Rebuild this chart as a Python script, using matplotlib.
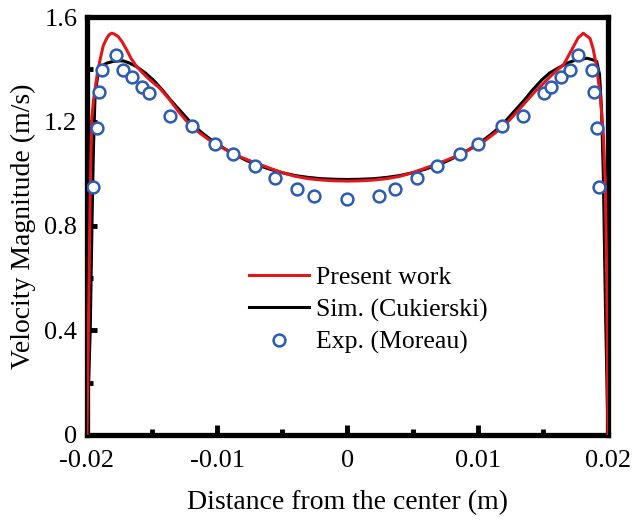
import matplotlib
matplotlib.use('Agg')
import matplotlib.pyplot as plt
from matplotlib.ticker import MultipleLocator

plt.rcParams['font.family'] = ['Liberation Serif', 'DejaVu Serif']

# Present work (numerical velocity profile)
x_present = [-0.02, -0.01985, -0.01975, -0.01964, -0.0195, -0.01939, -0.0192, -0.019,
             -0.01875, -0.01849, -0.0183, -0.0181, -0.0179, -0.0176, -0.0173, -0.01695,
             -0.0166, -0.01618, -0.0157, -0.01516, -0.0144, -0.01363, -0.01286, -0.01209,
             -0.01132, -0.0105, -0.00979, -0.009, -0.00825, -0.0075, -0.00697, -0.006,
             -0.005, -0.004, -0.003, -0.002, -0.001, 0.0,
             0.001, 0.002, 0.003, 0.004, 0.005, 0.006, 0.007, 0.0075, 0.00825, 0.009,
             0.0098, 0.0105, 0.0113, 0.0121, 0.0129, 0.0136, 0.0144, 0.01478, 0.01555,
             0.01605, 0.01657, 0.01695, 0.01734, 0.0177, 0.0181, 0.01862, 0.01885, 0.01913,
             0.0194, 0.01964, 0.0198, 0.0199, 0.02]
y_present = [0.0, 0.55, 0.95, 1.206, 1.28, 1.32, 1.385, 1.435,
             1.49, 1.518, 1.532, 1.538, 1.535, 1.525, 1.505, 1.474,
             1.44, 1.41, 1.385, 1.359, 1.327, 1.282, 1.231, 1.187,
             1.155, 1.125, 1.104, 1.083, 1.065, 1.05, 1.04, 1.022,
             1.004, 0.99, 0.981, 0.976, 0.973, 0.972,
             0.973, 0.976, 0.981, 0.99, 1.004, 1.022, 1.04, 1.05, 1.065, 1.083,
             1.104, 1.125, 1.155, 1.187, 1.231, 1.27, 1.315, 1.333, 1.371,
             1.395, 1.416, 1.45, 1.486, 1.52, 1.538, 1.518, 1.48, 1.41,
             1.3, 1.155, 0.95, 0.6, 0.0]

# Sim. (Cukierski)
x_sim = [-0.02, -0.01975, -0.0196, -0.0195, -0.01939, -0.01925, -0.01913, -0.019,
         -0.01875, -0.0185, -0.018, -0.0175, -0.01721, -0.0168, -0.01618, -0.0155,
         -0.01491, -0.0142, -0.01363, -0.013, -0.01237, -0.01184, -0.011, -0.0102,
         -0.0094, -0.0086, -0.0078, -0.007, -0.006, -0.005, -0.004, -0.003, -0.002,
         -0.001, 0.0,
         0.001, 0.002, 0.003, 0.004, 0.005, 0.006, 0.007, 0.0078, 0.0086, 0.0094,
         0.0102, 0.011, 0.01184, 0.01237, 0.013, 0.01363, 0.0142, 0.01491, 0.0155,
         0.01618, 0.01683, 0.0175, 0.0184, 0.01885, 0.01913, 0.01935, 0.0195,
         0.01964, 0.0198, 0.02]
y_sim = [0.0, 0.4, 0.85, 1.1, 1.282, 1.35, 1.384, 1.4,
         1.416, 1.423, 1.43, 1.432, 1.432, 1.425, 1.41, 1.385,
         1.359, 1.32, 1.285, 1.25, 1.215, 1.185, 1.15, 1.12,
         1.095, 1.072, 1.052, 1.035, 1.018, 1.004, 0.993, 0.986, 0.981,
         0.979, 0.978,
         0.979, 0.981, 0.986, 0.993, 1.004, 1.018, 1.035, 1.052, 1.072, 1.095,
         1.12, 1.15, 1.185, 1.215, 1.25, 1.285, 1.32, 1.359, 1.385,
         1.405, 1.423, 1.435, 1.442, 1.436, 1.43, 1.38, 1.25,
         1.0, 0.5, 0.0]

# Exp. (Moreau)
x_exp = [-0.01952, -0.01926, -0.01906, -0.01887, -0.0178, -0.01721, -0.01657, -0.0158,
         -0.01522, -0.01363, -0.01196, -0.01017, -0.00881, -0.0071, -0.00557, -0.0039,
         -0.00257, 0.0, 0.00244, 0.00365, 0.00536, 0.0069, 0.00864, 0.01004,
         0.01188, 0.0135, 0.01511, 0.01562, 0.01639, 0.01708, 0.01772, 0.01875,
         0.01893, 0.01918, 0.01933]
y_exp = [0.948, 1.176, 1.314, 1.396, 1.455, 1.396, 1.369, 1.331,
         1.308, 1.222, 1.183, 1.113, 1.074, 1.031, 0.985, 0.940,
         0.915, 0.902, 0.915, 0.940, 0.985, 1.031, 1.074, 1.113,
         1.183, 1.222, 1.308, 1.331, 1.369, 1.396, 1.455, 1.396,
         1.314, 1.176, 0.948]

x_ticks = [-0.02, -0.01, 0.0, 0.01, 0.02]
x_ticklabels = ['-0.02', '-0.01', '0', '0.01', '0.02']
y_ticks = [0.0, 0.4, 0.8, 1.2, 1.6]
y_ticklabels = ['0', '0.4', '0.8', '1.2', '1.6']

fig = plt.figure(figsize=(6.33, 5.22), dpi=100)
ax = fig.add_axes([0.1374, 0.1667, 0.8231, 0.8007])

ax.plot(x_present, y_present, color='#e3171b', lw=2.2, label='Present work', zorder=3)
ax.plot(x_sim, y_sim, color='black', lw=2.2, label='Sim. (Cukierski)', zorder=2)
ax.plot(x_exp, y_exp, ls='none', marker='o', ms=8.5, mfc='white', mec='#2b5bb5',
        mew=1.8, label='Exp. (Moreau)', zorder=4)

ax.set_xlim(-0.02, 0.02)
ax.set_ylim(0, 1.6)
ax.set_xticks(x_ticks)
ax.set_xticklabels(x_ticklabels)
ax.set_yticks(y_ticks)
ax.set_yticklabels(y_ticklabels)
ax.xaxis.set_minor_locator(MultipleLocator(0.005))
ax.yaxis.set_minor_locator(MultipleLocator(0.2))
ax.tick_params(which='major', direction='in', length=7, width=3.5, labelsize=19)
ax.tick_params(which='minor', direction='in', length=4, width=3.5)
ax.tick_params(axis='x', which='major', pad=11)
ax.tick_params(axis='y', which='major', pad=7)
ax.tick_params(top=False, right=False, which='both')

for s in ax.spines.values():
    s.set_linewidth(3.8)

ax.set_xlabel('Distance from the center (m)', fontsize=20, labelpad=13)
ax.set_ylabel('Velocity Magnitude (m/s)', fontsize=20, labelpad=6)

ax.legend(loc='center left', bbox_to_anchor=(0.286, 0.299), frameon=False, fontsize=18.5,
          borderpad=0, handlelength=2.35, handletextpad=0.28, labelspacing=0.37)

fig.savefig('out.png', dpi=100)
